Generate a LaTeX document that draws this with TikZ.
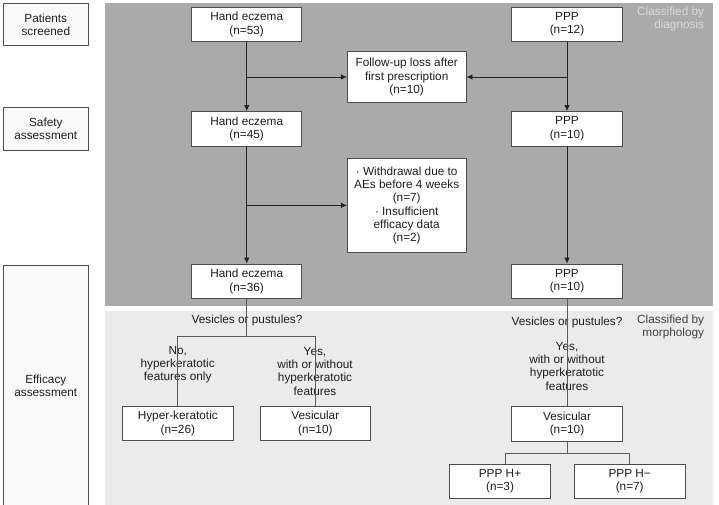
\documentclass[tikz,border=0pt]{standalone}
\usepackage{fontspec}
\setmainfont{Liberation Sans}
\usetikzlibrary{arrows.meta,calc}
\definecolor{darkbg}{HTML}{AAAAAA}
\definecolor{lightbg}{HTML}{EBEBEB}
\definecolor{bordc}{HTML}{4D4D4D}
\definecolor{txtc}{HTML}{1E1E1E}
\definecolor{linec}{HTML}{222222}
\definecolor{brlinec}{HTML}{5A5A5A}
\definecolor{paletxt}{HTML}{DADADA}
\begin{document}
\begin{tikzpicture}[x=1pt,y=-1pt,
  every node/.style={font=\fontsize{11.8}{13.3}\selectfont, text=txtc},
  box/.style={draw=bordc, fill=white, line width=0.8pt, align=center, inner sep=0pt, minimum width=110pt, minimum height=34.4pt},
  labbox/.style={draw=bordc, fill=white!98!black, line width=0.8pt},
  lbl/.style={align=center, inner sep=0pt},
  arr/.style={draw=linec, line width=0.9pt, -{Latex[length=6pt,width=5.5pt]}},
  ln/.style={draw=brlinec, line width=0.9pt}]
\useasboundingbox (0,0) rectangle (719,505);
% background regions
\fill[darkbg] (105,3.3) rectangle (712.7,305.7);
\fill[lightbg] (105,311) rectangle (712.7,505);
% left stage labels
\draw[labbox] (3.3,3.3) rectangle (88.3,45.7);
\node[lbl] (s1) at (45.8,24.5) {Patients\\screened};
\draw[labbox] (3.3,107.3) rectangle (88.3,150);
\node[lbl] (s2) at (45.8,128.7) {Safety\\assessment};
\draw[labbox] (3.3,265) rectangle (88.3,508);
\node[lbl] (s3) at (45.8,386) {Efficacy\\assessment};
% region captions
\node[lbl, align=right, anchor=east, text=paletxt] (cd) at (704.3,19.2) {Classified by\\diagnosis};
\node[lbl, align=right, anchor=east, text=txtc!85] (cm) at (704.3,327) {Classified by\\morphology};
% boxes
\node[box] (he1) at (246.7,24.5) {Hand eczema\\(n=53)};
\node[box, minimum width=110.6pt] (ppp1) at (567,24.5) {PPP\\(n=12)};
\node[box, minimum width=118.7pt, minimum height=50.6pt] (fu) at (406.7,77) {Follow-up loss after\\first prescription\\(n=10)};
\node[box] (he2) at (246.7,128.8) {Hand eczema\\(n=45)};
\node[box, minimum width=110.6pt] (ppp2) at (567,128.8) {PPP\\(n=10)};
\node[box, minimum width=118.7pt, minimum height=94pt] (wd) at (406.7,205.3) {· Withdrawal due to\\AEs before 4 weeks\\(n=7)\\· Insufficient\\efficacy data\\(n=2)};
\node[box] (he3) at (246.7,281.3) {Hand eczema\\(n=36)};
\node[box, minimum width=110.6pt] (ppp3) at (567,281.3) {PPP\\(n=10)};
\node[box, minimum width=111pt] (hk) at (177.8,423.4) {Hyper-keratotic\\(n=26)};
\node[box, minimum width=110.7pt] (ves1) at (315.3,423.4) {Vesicular\\(n=10)};
\node[box, minimum width=110.6pt] (ves2) at (567,423.7) {Vesicular\\(n=10)};
\node[box, minimum width=101.4pt] (hp) at (500,481.3) {PPP H+\\(n=3)};
\node[box, minimum width=110.7pt] (hm) at (629.7,481.3) {PPP H−\\(n=7)};
% decision texts
\node[lbl] (q1) at (247,320) {Vesicles or pustules?};
\node[lbl] (q2) at (567,322.7) {Vesicles or pustules?};
\node[lbl] (no1) at (177.7,364.5) {No,\\hyperkeratotic\\features only};
\node[lbl] (yes1) at (315,371.2) {Yes,\\with or without\\hyperkeratotic\\features};
\node[lbl] (yes2) at (567,366.3) {Yes,\\with or without\\hyperkeratotic\\features};
% arrows
\draw[arr] (he1) -- (he2);
\draw[arr] (he2) -- (he3);
\draw[arr] (ppp1) -- (ppp2);
\draw[arr] (ppp2) -- (ppp3);
\draw[arr] (he1.south |- fu.west) -- (fu.west);
\draw[arr] (ppp1.south |- fu.east) -- (fu.east);
\draw[arr] (he2.south |- wd.west) -- (wd.west);
% branches
\draw[ln] (he3.south) -- ++(0,37.7) -| (hk.north);
\draw[ln] (he3.south) -- ++(0,37.7) -| (ves1.north);
\draw[ln] (ppp3) -- (ves2);
\draw[ln] (ves2.south) -- ++(0,12) -| ([xshift=5.7pt]hp.north);
\draw[ln] (ves2.south) -- ++(0,12) -| (hm.north);
\end{tikzpicture}
\end{document}
